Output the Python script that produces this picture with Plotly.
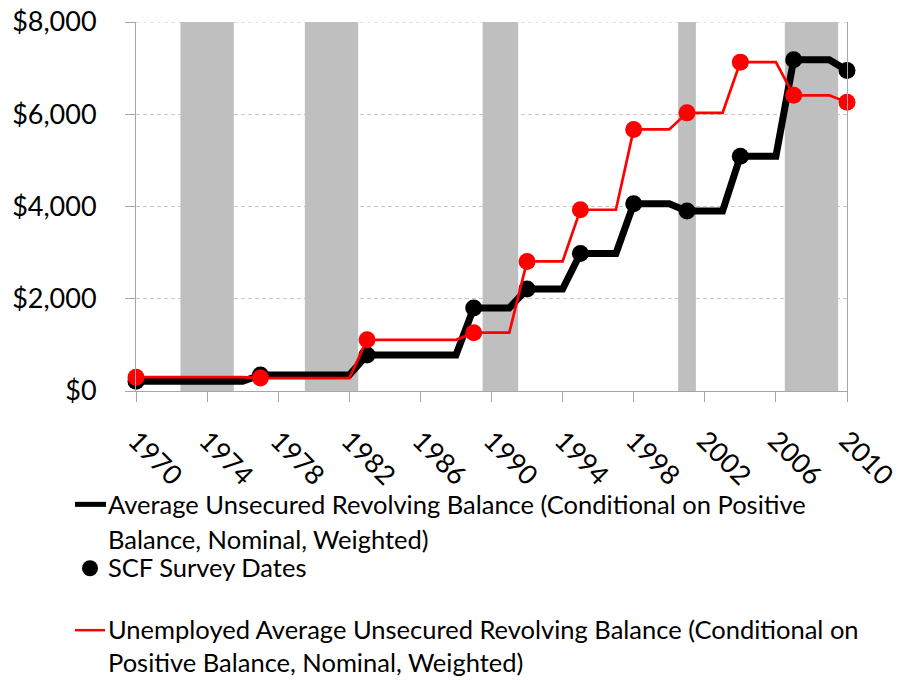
import plotly.graph_objects as go

# ---------------- data ----------------
survey_years = [1970, 1977, 1983, 1989, 1992, 1995, 1998, 2001, 2004, 2007, 2010]
avg_balance = [210, 345, 780, 1800, 2210, 2980, 4060, 3900, 5090, 7180, 6950]
unemp_balance = [300, 280, 1110, 1265, 2810, 3930, 5670, 6030, 7130, 6410, 6260]

recession_start = [1973, 1980, 1990, 2001, 2007]
recession_end = [1975, 1982, 1991, 2001, 2009]
recession_top = 8000

x_tick_vals = list(range(1970, 2011, 4))
y_tick_vals = [0, 2000, 4000, 6000, 8000]
y_tick_text = ["$0", "$2,000", "$4,000", "$6,000", "$8,000"]

legend_black = ["Average Unsecured Revolving Balance (Conditional on Positive",
                "Balance, Nominal, Weighted)"]
legend_dot = ["SCF Survey Dates"]
legend_red = ["Unemployed Average Unsecured Revolving Balance (Conditional on",
              "Positive Balance, Nominal, Weighted)"]


def step_path(years, vals):
    xs, ys = [years[0]], [vals[0]]
    for i in range(1, len(years)):
        xs += [years[i] - 1, years[i]]
        ys += [vals[i - 1], vals[i]]
    return xs, ys


FONT = "Lato"
OFF = 8  # page body margin
W, H = 901 - OFF, 680 - OFF
ML, MT = 136 - OFF, 22 - OFF
MR = W - (847 - OFF)
MB = H - (391.5 - OFF)
PW, PH = W - ML - MR, H - MT - MB


def px(x):  # reference-screenshot pixel -> paper
    return (x - OFF - ML) / PW


def py(y):
    return (H - MB - (y - OFF)) / PH


fig = go.Figure()

# recession shading
fig.add_trace(go.Bar(
    x=[(s + e) / 2 for s, e in zip(recession_start, recession_end)],
    y=[recession_top] * len(recession_start),
    width=[e - s + 1 for s, e in zip(recession_start, recession_end)],
    marker=dict(color="#BFBFBF", line=dict(width=0)),
    hoverinfo="skip", showlegend=False,
))

bx, by = step_path(survey_years, avg_balance)
rx, ry = step_path(survey_years, unemp_balance)

fig.add_trace(go.Scatter(x=bx, y=by, mode="lines",
                         line=dict(color="black", width=7), cliponaxis=False,
                         showlegend=False))
fig.add_trace(go.Scatter(x=survey_years, y=avg_balance, mode="markers",
                         marker=dict(color="black", size=17), cliponaxis=False,
                         showlegend=False))
fig.add_trace(go.Scatter(x=rx, y=ry, mode="lines",
                         line=dict(color="#FF0000", width=2.7), cliponaxis=False,
                         showlegend=False))
fig.add_trace(go.Scatter(x=survey_years, y=unemp_balance, mode="markers",
                         marker=dict(color="#FF0000", size=17), cliponaxis=False,
                         showlegend=False))

# ---------------- legend (manual) ----------------
shapes = []
annotations = []
LEG_FONT = dict(family=FONT, size=25.5, color="black")
text_x = px(106)

# top gridline (plotly omits the grid line at the range edge)
shapes.append(dict(type="line", xref="paper", yref="y", layer="below",
                   x0=0, x1=1, y0=y_tick_vals[-1], y1=y_tick_vals[-1],
                   line=dict(color="#C8C8C8", width=1, dash="4px,3px")))

shapes.append(dict(type="line", xref="paper", yref="paper",
                   x0=px(75), x1=px(106), y0=py(505), y1=py(505),
                   line=dict(color="black", width=5)))
for i, t in enumerate(legend_black):
    annotations.append(dict(xref="paper", yref="paper", x=text_x, y=py(505 + 35 * i),
                            xanchor="left", yanchor="middle", text=t, showarrow=False,
                            font=LEG_FONT))
shapes.append(dict(type="circle", xref="paper", yref="paper",
                   x0=px(82), x1=px(98), y0=py(561), y1=py(577),
                   fillcolor="black", line=dict(width=0)))
annotations.append(dict(xref="paper", yref="paper", x=text_x, y=py(568),
                        xanchor="left", yanchor="middle", text=legend_dot[0],
                        showarrow=False, font=LEG_FONT))
shapes.append(dict(type="line", xref="paper", yref="paper",
                   x0=px(75), x1=px(105), y0=py(631), y1=py(631),
                   line=dict(color="#FF0000", width=2.5)))
for i, t in enumerate(legend_red):
    annotations.append(dict(xref="paper", yref="paper", x=text_x, y=py(630 + 33 * i),
                            xanchor="left", yanchor="middle", text=t, showarrow=False,
                            font=LEG_FONT))

fig.update_layout(
    width=W, height=H,
    margin=dict(l=ML, r=MR, t=MT, b=MB, autoexpand=False),
    paper_bgcolor="white", plot_bgcolor="white",
    font=dict(family=FONT, color="black"),
    showlegend=False,
    shapes=shapes, annotations=annotations,
    xaxis=dict(range=[1970, 2010], tickvals=x_tick_vals, tickangle=45,
               showgrid=False, showline=True, linecolor="#A6A6A6", linewidth=1,
               ticks="outside", ticklen=10, tickcolor="#A6A6A6",
               tickfont=dict(family=FONT, size=27, color="black"),
               ticklabelstandoff=12, ticklabeloverflow="allow", zeroline=False),
    yaxis=dict(range=[0, 8000], tickvals=y_tick_vals, ticktext=y_tick_text,
               showgrid=True, gridcolor="#C8C8C8", griddash="4px,3px", gridwidth=1,
               showline=True, mirror=True, linecolor="#A6A6A6", linewidth=1,
               ticks="outside", ticklen=10, tickcolor="#A6A6A6",
               tickfont=dict(family=FONT, size=27, color="black"),
               ticklabelstandoff=23, ticklabeloverflow="allow", zeroline=False),
)

fig.write_html("out.html")
